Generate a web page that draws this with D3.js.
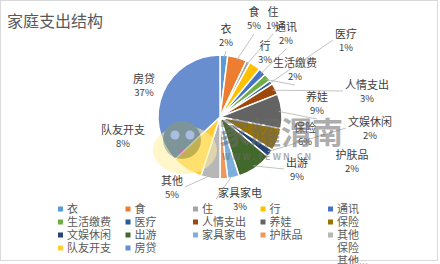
<!DOCTYPE html>
<html>
<head>
<meta charset="utf-8">
<script src="https://cdn.jsdelivr.net/npm/d3@7"></script>
<style>
body { margin: 0; background: #fff; }
text { font-family: "Noto Sans CJK SC", "Noto Sans", sans-serif; }
</style>
</head>
<body>
<script>
// data
var categories = ["衣", "食", "住", "行", "通讯", "生活缴费", "医疗", "人情支出", "养娃", "保险",
  "文娱休闲", "出游", "家具家电", "护肤品", "其他", "队友开支", "房贷"];
var percents = [2, 5, 1, 3, 2, 2, 1, 3, 9, 6, 2, 9, 3, 2, 5, 8, 37];
var colors = ["#5B9BD5", "#ED7D31", "#A5A5A5", "#FFC000", "#4472C4", "#70AD47", "#255E91", "#9E480E",
  "#636363", "#997300", "#264478", "#43682B", "#7CAFDD", "#F1975A", "#B7B7B7", "#FFCD33", "#698ED0"];

// label layout (center of name line), and whether a leader line is drawn
var labelPos = {
  "衣": [226, 29, 1], "食": [254, 12, 1], "住": [273, 12, 1], "行": [265, 46, 0],
  "通讯": [286, 27, 1], "生活缴费": [295, 63, 1], "医疗": [346, 34, 1], "人情支出": [367, 85, 1],
  "养娃": [317, 97, 1], "保险": [305, 128, 0], "文娱休闲": [370, 122, 1], "出游": [297, 163, 1],
  "家具家电": [240, 193, 1], "护肤品": [352, 155, 0], "其他": [172, 181, 1],
  "队友开支": [123, 130, 0], "房贷": [144, 79, 0]
};

var width = 440, height = 264;
var cx = 220, cy = 117, radius = 62;

var svg = d3.select("body").append("svg")
  .attr("width", width)
  .attr("height", height);

// frame
svg.append("rect")
  .attr("x", 0.5).attr("y", 0.5)
  .attr("width", 437).attr("height", 260)
  .attr("fill", "#fff")
  .attr("stroke", "#d9d9d9");

// title
svg.append("text")
  .attr("x", 7).attr("y", 27)
  .attr("font-size", 16)
  .attr("fill", "#595959")
  .text("家庭支出结构");

var data = categories.map(function(c, i) { return { name: c, value: percents[i], color: colors[i] }; });

var pie = d3.pie().sort(null).value(function(d) { return d.value; });
var arc = d3.arc().innerRadius(0).outerRadius(radius);

var g = svg.append("g").attr("transform", "translate(" + cx + "," + cy + ")");

var arcs = pie(data);

g.selectAll("path")
  .data(arcs)
  .enter().append("path")
  .attr("d", arc)
  .attr("fill", function(d) { return d.data.color; })
  .attr("stroke", "#fff")
  .attr("stroke-width", 1.5);

// labels
var lab = svg.append("g");
arcs.forEach(function(d) {
  var p = labelPos[d.data.name];
  var t1 = lab.append("text")
    .attr("x", p[0]).attr("y", p[1] + 4)
    .attr("text-anchor", "middle")
    .attr("font-size", 11)
    .attr("fill", "#404040")
    .text(d.data.name);
  lab.append("text")
    .attr("x", p[0]).attr("y", p[1] + 17)
    .attr("text-anchor", "middle")
    .attr("font-size", 9.5)
    .attr("fill", "#404040")
    .text(d.data.value + "%");
  if (p[2]) {
    var a = (d.startAngle + d.endAngle) / 2;
    var sx = cx + Math.sin(a) * (radius - 3), sy = cy - Math.cos(a) * (radius - 3);
    var w = t1.node().getComputedTextLength();
    var ex, ey;
    // attach to the nearest side of the label
    if (p[1] + 6 < sy - 8 && Math.abs(p[0] - sx) < 40) { ex = p[0]; ey = p[1] + 22; }
    else if (p[0] > sx) { ex = p[0] - w / 2 - 2; ey = p[1] + 6; }
    else { ex = p[0] + w / 2 + 2; ey = p[1] + 6; }
    if (p[1] > sy + 20 && Math.abs(p[0] - sx) < 40) { ex = p[0]; ey = p[1] - 7; }
    lab.append("path")
      .attr("d", "M" + sx + "," + sy + "L" + ex + "," + ey)
      .attr("fill", "none")
      .attr("stroke", "#b4b4b4")
      .attr("stroke-width", 0.8);
  }
});

// watermark
var wm = svg.append("g").attr("opacity", 0.55);
wm.append("ellipse").attr("cx", 185).attr("cy", 150).attr("rx", 32).attr("ry", 24)
  .attr("fill", "#fff0a0");
wm.append("circle").attr("cx", 182).attr("cy", 140).attr("r", 19).attr("fill", "#8f9a6c");
wm.append("circle").attr("cx", 175).attr("cy", 135).attr("r", 4.5).attr("fill", "#dfe6f0");
wm.append("circle").attr("cx", 190).attr("cy", 135).attr("r", 4.5).attr("fill", "#dfe6f0");
wm.append("circle").attr("cx", 182).attr("cy", 152).attr("r", 2.5).attr("fill", "#e06090");
wm.append("text").attr("x", 219).attr("y", 144)
  .attr("font-size", 31).attr("font-weight", "bold").attr("fill", "#6b6b6b")
  .text("家耀渭南");
wm.append("text").attr("x", 222).attr("y", 160)
  .attr("font-size", 9).attr("font-weight", "bold").attr("fill", "#6b6b6b")
  .text("W W W . Y E W N . C N");

// legend, 5 columns
var legend = svg.append("g");
data.forEach(function(d, i) {
  var col = i % 5, row = Math.floor(i / 5);
  var x = 58 + col * 67.5, y = 209 + row * 13;
  legend.append("rect")
    .attr("x", x).attr("y", y - 2.5)
    .attr("width", 5).attr("height", 5)
    .attr("fill", d.color);
  legend.append("text")
    .attr("x", x + 9).attr("y", y + 4)
    .attr("font-size", 11)
    .attr("fill", "#595959")
    .text(d.name);
});
// overflowing legend text at the bottom right
legend.append("text").attr("x", 337).attr("y", 252).attr("font-size", 11).attr("fill", "#595959").text("保险");
legend.append("text").attr("x", 337).attr("y", 265).attr("font-size", 11).attr("fill", "#595959").text("其他...");
</script>
</body>
</html>
